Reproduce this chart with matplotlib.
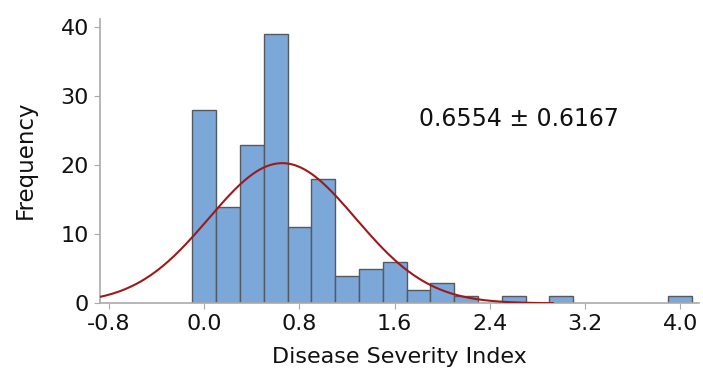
import numpy as np
import matplotlib
matplotlib.use("Agg")
import matplotlib.pyplot as plt

# --- data ---
bin_centers = [0.0, 0.2, 0.4, 0.6, 0.8, 1.0, 1.2, 1.4, 1.6, 1.8, 2.0, 2.2, 2.4, 2.6, 2.8, 3.0,
               3.2, 3.4, 3.6, 3.8, 4.0]
counts = [28, 14, 23, 39, 11, 18, 4, 5, 6, 2, 3, 1, 0, 1, 0, 1,
          0, 0, 0, 0, 1]
BIN_WIDTH = 0.2

MEAN = 0.6554
SD = 0.6167
curve_range = [-0.876, 2.93]

x_ticks = [-0.8, 0.0, 0.8, 1.6, 2.4, 3.2, 4.0]
y_ticks = [0, 10, 20, 30, 40]

plt.rcParams['font.family'] = ['DejaVu Sans']

fig = plt.figure(figsize=(7.03, 3.69), dpi=100)
ax = fig.add_axes([0.1422, 0.178, 0.8521, 0.7705])

cen = np.array(bin_centers)
cnt = np.array(counts)
nz = cnt > 0
ax.bar(cen[nz], cnt[nz], width=BIN_WIDTH, color='#7ba7d9', edgecolor='#555a60',
       linewidth=1.0, zorder=2)

# fitted normal curve, scaled to counts
n_total = cnt.sum()
xs = np.linspace(curve_range[0], curve_range[1], 300)
ys = n_total * BIN_WIDTH / (SD * np.sqrt(2 * np.pi)) * np.exp(-0.5 * ((xs - MEAN) / SD) ** 2)
ax.plot(xs, ys, color='#9e1a1a', linewidth=1.5, zorder=3)

ax.text(0.700, 0.649, f"{MEAN} \u00b1 {SD}", transform=ax.transAxes, ha='center', va='center',
        fontsize=17, color='#111111')

ax.set_xlim(-0.876, 4.157)
ax.set_ylim(0, 41.2)
ax.set_xticks(x_ticks)
ax.set_xticklabels([f"{t:.1f}" for t in x_ticks])
ax.set_yticks(y_ticks)

for side in ['top', 'right']:
    ax.spines[side].set_visible(False)
for side in ['left', 'bottom']:
    ax.spines[side].set_color('#aaaaaa')
    ax.spines[side].set_linewidth(1.2)
ax.tick_params(axis='both', direction='out', length=4, color='#aaaaaa', labelsize=16,
               labelcolor='#111111', pad=4)

ax.set_xlabel("Disease Severity Index", fontsize=16, color='#111111', va='baseline')
ax.xaxis.set_label_coords(0.5, -0.211)
ax.set_ylabel("Frequency", fontsize=16.5, color='#111111', va='center')
ax.yaxis.set_label_coords(-0.125, 0.504)

fig.savefig("out.png", dpi=100)
